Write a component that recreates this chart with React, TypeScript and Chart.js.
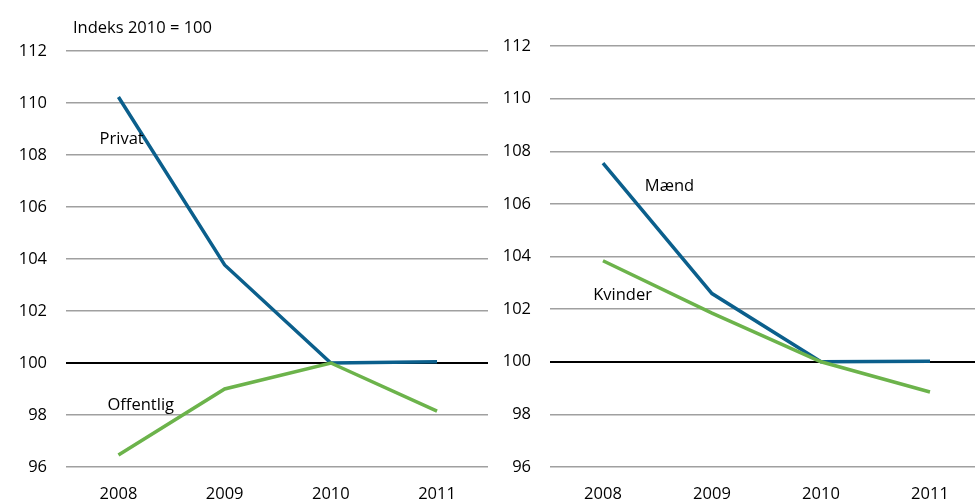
import React, { useEffect, useRef } from 'react';
import { Chart, registerables } from 'chart.js';
Chart.register(...registerables);

const years = [2008, 2009, 2010, 2011];
const yTicks = [96, 98, 100, 102, 104, 106, 108, 110, 112];
const privat = [110.23, 103.77, 100, 100.05];
const offentlig = [96.46, 99.0, 100, 98.15];
const maend = [107.55, 102.59, 100, 100.02];
const kvinder = [103.84, 101.85, 100, 98.85];

const indexLabel = 'Indeks 2010 = 100';
const leftNotes = [
  { text: 'Privat', x: 2008.03, y: 108.6 },
  { text: 'Offentlig', x: 2008.21, y: 98.38 },
];
const rightNotes = [
  { text: 'Mænd', x: 2008.61, y: 106.67 },
  { text: 'Kvinder', x: 2008.18, y: 102.51 },
];

const BLUE = '#0b5f8c';
const GREEN = '#6cb34b';
const FONT = "'Open Sans', sans-serif";
const FONT_SIZE = 16.5;

type Note = { text: string; x: number; y: number };
type Series = { values: number[]; color: string };

type PanelProps = {
  left: number;
  width: number;
  yAxisWidth: number;
  padTop: number;
  padRight: number;
  xMin: number;
  xMax: number;
  series: Series[];
  notes: Note[];
};

function Panel(p: PanelProps) {
  const ref = useRef<HTMLCanvasElement | null>(null);
  useEffect(() => {
    if (!ref.current) return;
    const notesPlugin = {
      id: 'notes',
      afterDatasetsDraw(chart: any) {
        const ctx = chart.ctx;
        const xs = chart.scales.x;
        const ys = chart.scales.y;
        ctx.save();
        ctx.font = `${FONT_SIZE}px ${FONT}`;
        ctx.fillStyle = '#000';
        ctx.textAlign = 'center';
        ctx.textBaseline = 'middle';
        p.notes.forEach((n) => {
          ctx.fillText(n.text, xs.getPixelForValue(n.x), ys.getPixelForValue(n.y));
        });
        ctx.restore();
      },
    };
    const chart = new Chart(ref.current, {
      type: 'line',
      data: {
        datasets: p.series.map((s) => ({
          data: years.map((yr, i) => ({ x: yr, y: s.values[i] })),
          borderColor: s.color,
          backgroundColor: s.color,
          borderWidth: 3.5,
          pointRadius: 0,
          tension: 0,
          fill: false,
        })),
      },
      options: {
        responsive: false,
        animation: false,
        devicePixelRatio: 1,
        layout: { padding: { top: p.padTop, right: p.padRight, left: 0, bottom: 0 } },
        plugins: { legend: { display: false }, tooltip: { enabled: false } },
        scales: {
          x: {
            type: 'linear',
            min: p.xMin,
            max: p.xMax,
            grid: { display: false },
            border: { display: false },
            afterBuildTicks: (axis: any) => {
              axis.ticks = years.map((v) => ({ value: v }));
            },
            afterFit: (axis: any) => {
              axis.height = 35;
            },
            ticks: {
              padding: 9,
              color: '#000',
              font: { family: FONT, size: FONT_SIZE },
              callback: (v: any) => String(v),
              maxRotation: 0,
            },
          },
          y: {
            min: 96,
            max: 112,
            afterBuildTicks: (axis: any) => {
              axis.ticks = yTicks.map((v) => ({ value: v }));
            },
            afterFit: (axis: any) => {
              axis.width = p.yAxisWidth;
            },
            border: { display: false },
            grid: {
              drawTicks: false,
              color: (c: any) => (c.tick && c.tick.value === 100 ? '#000000' : '#a0a0a0'),
              lineWidth: (c: any) => (c.tick && c.tick.value === 100 ? 2 : 1.5),
            },
            ticks: {
              padding: 19,
              color: '#000',
              font: { family: FONT, size: FONT_SIZE },
            },
          },
        },
      },
      plugins: [notesPlugin],
    } as any);
    return () => chart.destroy();
  }, []);
  return (
    <canvas
      ref={ref}
      width={p.width}
      height={502}
      style={{ position: 'absolute', left: p.left, top: 0, width: p.width, height: 502 }}
    />
  );
}

export default function App() {
  return (
    <div style={{ position: 'absolute', left: 0, top: 0, width: 975, height: 502, overflow: 'hidden', background: '#fff' }}>
      <Panel
        left={0}
        width={495}
        yAxisWidth={66}
        padTop={51}
        padRight={7}
        xMin={2007.506}
        xMax={2011.48}
        series={[
          { values: offentlig, color: GREEN },
          { values: privat, color: BLUE },
        ]}
        notes={leftNotes}
      />
      <Panel
        left={480}
        width={495}
        yAxisWidth={70}
        padTop={46}
        padRight={0}
        xMin={2007.514}
        xMax={2011.413}
        series={[
          { values: kvinder, color: GREEN },
          { values: maend, color: BLUE },
        ]}
        notes={rightNotes}
      />
      <div
        style={{
          position: 'absolute',
          left: 73,
          top: 16,
          fontFamily: FONT,
          fontSize: FONT_SIZE,
          lineHeight: '22px',
          color: '#000',
          whiteSpace: 'nowrap',
        }}
      >
        {indexLabel}
      </div>
    </div>
  );
}
